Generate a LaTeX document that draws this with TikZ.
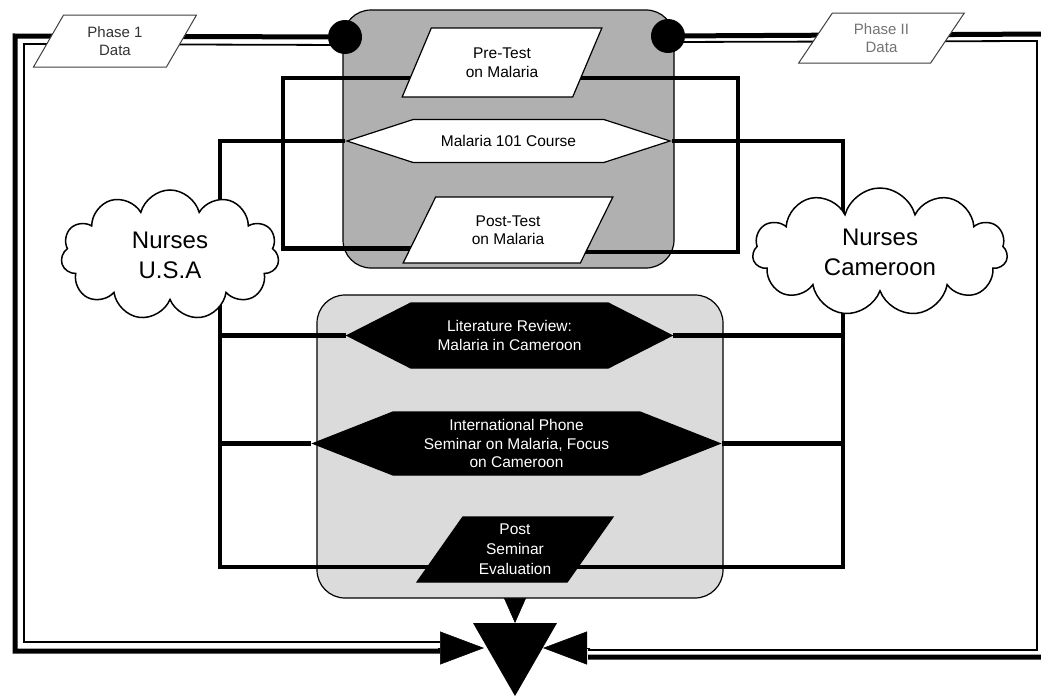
\documentclass[tikz,border=0pt]{standalone}
\usepackage{fontspec}
\setmainfont{Liberation Sans}
\usetikzlibrary{shapes.geometric,shapes.symbols,arrows.meta,calc}
\pgfdeclarelayer{back}
\pgfdeclarelayer{mid}
\pgfsetlayers{back,mid,main}
\begin{document}
\begin{tikzpicture}[x=1pt,y=-1pt,
  conn/.style={line width=4.5pt, line join=miter},
  grp/.style={draw, line width=1.2pt, rounded corners=28pt},
  para/.style={trapezium, trapezium stretches=true, draw, line width=1.2pt, inner sep=0pt, align=center, font=\fontsize{15.5}{18.5}\selectfont},
  hexa/.style={signal, signal to=west and east, draw, line width=1.2pt, inner sep=0pt, align=center, font=\fontsize{15.5}{19.5}\selectfont},
  wfill/.style={fill=white, text=black},
  bfill/.style={fill=black, text=white},
  nurse/.style={cloud, cloud puffs=11, cloud ignores aspect, draw, fill=white, line width=1.5pt, align=center, font=\fontsize{24}{30}\selectfont},
  dot/.style={circle, fill=black, minimum size=34pt, inner sep=0pt},
  phase/.style={trapezium, trapezium stretches=true, draw=black!75, fill=white, line width=1pt, inner sep=0pt, align=center, font=\fontsize{15}{18}\selectfont},
  outerline/.style={line width=5pt, line join=miter},
  innerline/.style={line width=1.8pt, line join=miter},
  tip/.style={-{Triangle[length=44pt,width=33pt]}, line width=0.5pt},
  smalltip/.style={-{Triangle[length=25pt,width=22pt]}, line width=0.5pt}
]
\useasboundingbox (0,0) rectangle (1041,696);
\clip (0,0) rectangle (1041,696);

\begin{pgfonlayer}{back}
  \fill[white] (0,0) rectangle (1041,696);
  \node[grp, fill=gray!62, minimum width=331pt, minimum height=258pt] (box1) at (508.5,139) {};
  \node[grp, fill=gray!28, minimum width=406pt, minimum height=303pt] (box2) at (520,446.5) {};
\end{pgfonlayer}

% data stores
\node[phase, text=black!80, trapezium left angle=61, trapezium right angle=119, minimum width=164pt, minimum height=52pt] (ph1) at (115,41) {Phase 1\\Data};
\node[phase, text=black!55, trapezium left angle=57, trapezium right angle=123, minimum width=167pt, minimum height=50pt] (ph2) at (881.5,38) {Phase II\\Data};

% junction dots
\node[dot] (c1) at (345,37) {};
\node[dot] (c2) at (668,36) {};

% first group
\node[para, wfill, trapezium left angle=63, trapezium right angle=117, minimum width=200pt, minimum height=69pt] (pre) at (502,62.5) {Pre-Test\\on Malaria};
\node[hexa, wfill, signal pointer angle=36, minimum width=323pt, minimum height=43pt] (mal) at (508.5,141) {Malaria 101 Course};
\node[para, wfill, trapezium left angle=61, trapezium right angle=119, minimum width=210pt, minimum height=66pt] (post) at (508,230) {Post-Test\\on Malaria};

% second group
\node[hexa, bfill, signal pointer angle=54, minimum width=325pt, minimum height=65pt] (lit) at (509.5,335.5) {Literature Review:\\Malaria in Cameroon};
\node[hexa, bfill, signal pointer angle=43, minimum width=407pt, minimum height=63pt, font=\fontsize{15.5}{18.5}\selectfont] (intl) at (516.5,443.5) {International Phone\\Seminar on Malaria, Focus\\on Cameroon};
\node[para, bfill, trapezium left angle=58, trapezium right angle=122, minimum width=196pt, minimum height=65pt, font=\fontsize{15.5}{20}\selectfont] (pse) at (515,549.5) {Post\\Seminar\\Evaluation};

% participants
\node[nurse, minimum width=218pt, minimum height=130pt] (usa) at (170,255) {Nurses\\U.S.A};
\node[nurse, minimum width=255pt, minimum height=128pt] (cam) at (880,252) {Nurses\\Cameroon};

% merge
\fill (473,623) -- (557,623) -- (515,696) -- cycle;
\coordinate (mg) at (515,648);
\coordinate (lfe) at (438,648);
\coordinate (rfe) at (590,648);

\begin{pgfonlayer}{mid}
  % tests loop
  \draw[conn] ($(pre)+(0,15.5)$) -| ($(post)+(-225,18.5)$) -- ($(post)+(0,18.5)$);
  \draw[conn] ($(pre)+(0,15.5)$) -| ($(post)+(230,22)$) -- ($(post)+(0,22)$);
  % course to nurses
  \draw[conn] (mal.west) -| ($(usa)+(50,0)$);
  \draw[conn] (mal.east) -| ($(cam)+(-37,0)$);
  % nurses to second group
  \draw[conn] ($(usa)+(50,0)$) |- (lit.west);
  \draw[conn] ($(usa)+(50,0)$) |- (intl.west);
  \draw[conn] ($(usa)+(50,0)$) |- ($(pse)+(0,17.5)$);
  \draw[conn] ($(cam)+(-37,0)$) |- (lit.east);
  \draw[conn] ($(cam)+(-37,0)$) |- (intl.east);
  \draw[conn] ($(cam)+(-37,0)$) |- ($(pse)+(0,17.5)$);
  % frame, left half
  \draw[outerline] (c1) -- (15,36) -- (15,651) -- (440,651);
  \draw[innerline] ($(c1)+(0,8)$) -- (24,44) -- (24,642) -- (440,642);
  % frame, right half
  \draw[outerline] (c2) -- (1050,34) -- (1050,657) -- (588,657);
  \draw[innerline] ($(c2)+(0,6)$) -- (1037,41) -- (1037,650) -- (588,650);
\end{pgfonlayer}

% arrows into merge
\draw[tip] (lfe) -- ($(mg)+(-31,0)$);
\draw[tip] (rfe) -- ($(mg)+(28,0)$);
\draw[smalltip] (box2.south -| mg) -- ($(mg)+(0,-25)$);
\end{tikzpicture}
\end{document}
